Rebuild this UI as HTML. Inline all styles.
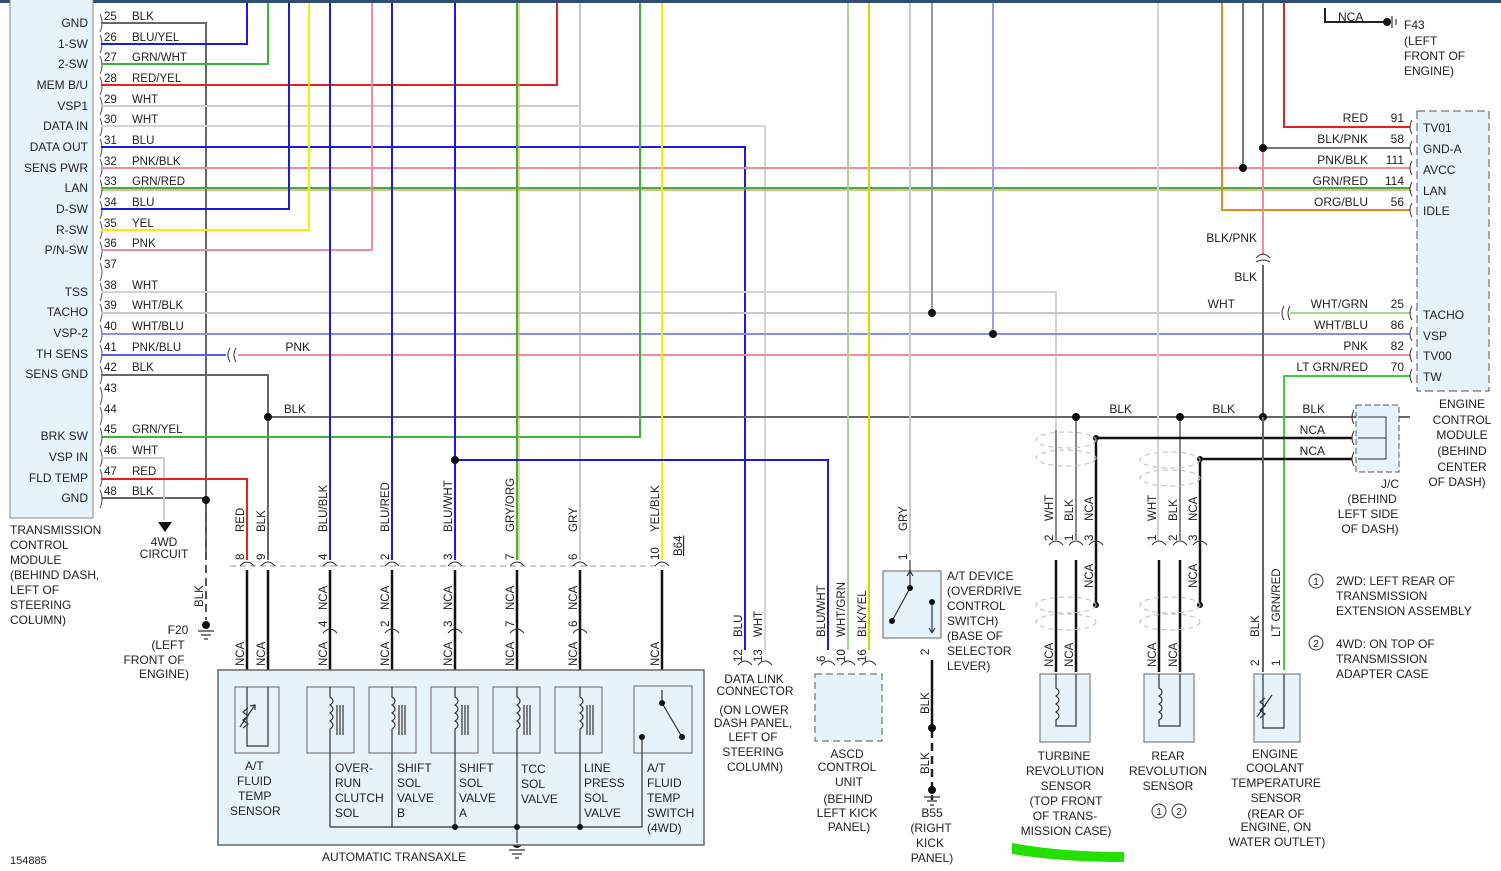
<!DOCTYPE html>
<html><head><meta charset="utf-8"><style>
html,body{margin:0;padding:0;background:#fff;}
svg{display:block;font-family:"Liberation Sans",sans-serif;font-size:12px;fill:#222;}
text{fill:#222;}
</style></head><body>
<svg width="1501" height="871" viewBox="0 0 1501 871" xmlns="http://www.w3.org/2000/svg">
<rect x="0" y="0" width="1501" height="3" fill="#2f4f70"/>
<!-- TCM box -->
<rect x="10" y="-2" width="83" height="520" fill="#e6f3fb" stroke="#888"/>
<g text-anchor="end">
<text x="88" y="27">GND</text><text x="88" y="48">1-SW</text><text x="88" y="68">2-SW</text><text x="88" y="89">MEM B/U</text>
<text x="88" y="110">VSP1</text><text x="88" y="130">DATA IN</text><text x="88" y="151">DATA OUT</text><text x="88" y="172">SENS PWR</text>
<text x="88" y="192">LAN</text><text x="88" y="213">D-SW</text><text x="88" y="234">R-SW</text><text x="88" y="254">P/N-SW</text>
<text x="88" y="296">TSS</text><text x="88" y="316">TACHO</text><text x="88" y="337">VSP-2</text><text x="88" y="358">TH SENS</text>
<text x="88" y="378">SENS GND</text><text x="88" y="440">BRK SW</text><text x="88" y="461">VSP IN</text><text x="88" y="482">FLD TEMP</text><text x="88" y="502">GND</text>
</g>
<g font-size="11.5">
<text x="104" y="20">25</text><text x="132" y="20">BLK</text>
<text x="104" y="41">26</text><text x="132" y="41">BLU/YEL</text>
<text x="104" y="61">27</text><text x="132" y="61">GRN/WHT</text>
<text x="104" y="82">28</text><text x="132" y="82">RED/YEL</text>
<text x="104" y="103">29</text><text x="132" y="103">WHT</text>
<text x="104" y="123">30</text><text x="132" y="123">WHT</text>
<text x="104" y="144">31</text><text x="132" y="144">BLU</text>
<text x="104" y="165">32</text><text x="132" y="165">PNK/BLK</text>
<text x="104" y="185">33</text><text x="132" y="185">GRN/RED</text>
<text x="104" y="206">34</text><text x="132" y="206">BLU</text>
<text x="104" y="227">35</text><text x="132" y="227">YEL</text>
<text x="104" y="247">36</text><text x="132" y="247">PNK</text>
<text x="104" y="268">37</text>
<text x="104" y="289">38</text><text x="132" y="289">WHT</text>
<text x="104" y="309">39</text><text x="132" y="309">WHT/BLK</text>
<text x="104" y="330">40</text><text x="132" y="330">WHT/BLU</text>
<text x="104" y="351">41</text><text x="132" y="351">PNK/BLU</text>
<text x="104" y="371">42</text><text x="132" y="371">BLK</text>
<text x="104" y="392">43</text>
<text x="104" y="413">44</text><text x="284" y="413">BLK</text>
<text x="104" y="433">45</text><text x="132" y="433">GRN/YEL</text>
<text x="104" y="454">46</text><text x="132" y="454">WHT</text>
<text x="104" y="475">47</text><text x="132" y="475">RED</text>
<text x="104" y="495">48</text><text x="132" y="495">BLK</text>
</g>
<!-- pin brackets -->
<g fill="none" stroke="#555" stroke-width="1">
<path d="M100 14 q4 9 0 18 M100 35 q4 9 0 18 M100 56 q4 9 0 18 M100 77 q4 9 0 18 M100 97 q4 9 0 18 M100 118 q4 9 0 18 M100 139 q4 9 0 18 M100 159 q4 9 0 18 M100 180 q4 9 0 18 M100 201 q4 9 0 18 M100 221 q4 9 0 18 M100 242 q4 9 0 18 M100 263 q4 9 0 18 M100 283 q4 9 0 18 M100 304 q4 9 0 18 M100 325 q4 9 0 18 M100 345 q4 9 0 18 M100 366 q4 9 0 18 M100 387 q4 9 0 18 M100 407 q4 9 0 18 M100 428 q4 9 0 18 M100 449 q4 9 0 18 M100 469 q4 9 0 18 M100 490 q4 9 0 18"/>
</g>
<!-- wires -->
<g fill="none" stroke-width="2">
<path d="M101 23 H206 V560" stroke="#666"/>
<path d="M101 498 H206" stroke="#666"/>
<path d="M101 44 H247 V3" stroke="#1a1ae6"/>
<path d="M101 64 H268 V3" stroke="#3cb43c"/>
<path d="M101 85 H557 V3" stroke="#e62020"/>
<path d="M101 106 H580" stroke="#ccc"/>
<path d="M580 3 V560" stroke="#c8c8c8"/>
<path d="M101 126 H765 V650" stroke="#d4d4d4"/>
<path d="M101 147 H745 V650" stroke="#1a1ae6"/>
<path d="M101 168 H1410" stroke="#f08ca0"/>
<path d="M101 188 H1410" stroke="#3cb43c"/>
<path d="M101 190 H1410" stroke="#e66a20" stroke-width="1"/>
<path d="M101 209 H289 V3" stroke="#1a1ae6"/>
<path d="M101 230 H309 V3" stroke="#f0f000"/>
<path d="M101 250 H372 V3" stroke="#f08ca0"/>
<path d="M101 292 H1056 V430" stroke="#d4d4d4"/>
<path d="M101 313 H1280" stroke="#c8c8c8"/>
<path d="M1290 313 H1410" stroke="#a8d890"/>
<path d="M101 334 H1410" stroke="#8c8cf0"/>
<path d="M101 355 H226" stroke="#5a5ae6"/>
<path d="M238 355 H1410" stroke="#f08ca0"/>
<path d="M101 375 H268 V560" stroke="#666"/>
<path d="M268 417 H1410" stroke="#666"/>
<path d="M101 437 H640 V3" stroke="#3cb43c"/>
<path d="M101 458 H164 V520" stroke="#ccc"/>
<path d="M101 479 H247 V560" stroke="#e62020"/>
<path d="M330 3 V560" stroke="#1a1ae6"/>
<path d="M392 3 V560" stroke="#1a1ae6"/>
<path d="M455 3 V560" stroke="#1a1ae6"/>
<path d="M517 3 V560" stroke="#3cb43c"/><path d="M519 3 V560" stroke="#e6a020" stroke-width="1"/>
<path d="M662 3 V560" stroke="#f0f000"/>
<path d="M455 460 H828 V650" stroke="#1a1ae6"/>
<path d="M848 3 V650" stroke="#a8d890"/>
<path d="M869 3 V650" stroke="#d8d800"/>
<path d="M910 3 V555" stroke="#c8c8c8"/>
<path d="M932 3 V313" stroke="#999"/>
<path d="M993 3 V334" stroke="#a0a0f0"/>
<path d="M1158 3 V540" stroke="#d4d4d4"/>
<path d="M1222 3 V210 H1410" stroke="#e68a20"/>
<path d="M1243 3 V168" stroke="#777"/>
<path d="M1263 3 V148 H1410" stroke="#777"/>
<path d="M1263 148 V255" stroke="#f08ca0"/>
<path d="M1263 265 V417" stroke="#666"/>
<path d="M1284 3 V127 H1410" stroke="#e62020"/>
<path d="M1410 376 H1284 V670" stroke="#3cd03c"/>
<path d="M1325 8 V22 H1385" stroke="#222"/>
<path d="M1076 417 V540 M1056 430 V540" stroke="#888"/>
<path d="M1180 417 V540" stroke="#888"/>
</g>
<g fill="none" stroke="#111" stroke-width="2.5">
<path d="M1096 438 H1352 M1096 438 V605"/>
<path d="M1200 459 H1352 M1200 459 V605"/>
<path d="M1056 560 V672 M1076 560 V672 M1159 560 V672 M1180 560 V672"/>
<path d="M247 570 V690 M268 570 V690 M330 570 V690 M392 570 V690 M455 570 V690 M517 570 V690 M580 570 V690 M662 570 V690"/>
<path d="M932 660 V730"/>
</g>
<path d="M932 730 V800" stroke="#222" stroke-width="2.5" stroke-dasharray="8,5"/>
<path d="M206 500 V620" stroke="#555" stroke-width="2" stroke-dasharray="8,5"/>
<path d="M230 566 H665" stroke="#999" stroke-dasharray="6,4"/>
<!-- dots -->
<g fill="#111">
<circle cx="268" cy="417" r="4"/><circle cx="206" cy="500" r="4"/><circle cx="455" cy="460" r="4"/>
<circle cx="932" cy="313" r="4"/><circle cx="993" cy="334" r="4"/><circle cx="1243" cy="168" r="4"/>
<circle cx="1263" cy="148" r="4"/><circle cx="1076" cy="417" r="4"/><circle cx="1180" cy="417" r="4"/><circle cx="1263" cy="417" r="4"/>
<circle cx="1096" cy="438" r="3"/><circle cx="1200" cy="459" r="3"/><circle cx="1096" cy="605" r="3"/><circle cx="1200" cy="605" r="3"/>
<circle cx="932" cy="728" r="4"/><circle cx="932" cy="790" r="4"/><circle cx="206" cy="625" r="4"/><circle cx="1387" cy="22" r="4"/>
<circle cx="517" cy="843" r="5"/>
</g>
<path d="M158 522 h14 l-7 10 z" fill="#111"/>
<!-- grounds -->
<g stroke="#333" stroke-width="1.2">
<path d="M198 631 h16 M201 635 h10 M204 639 h4"/>
<path d="M924 797 h16 M927 801 h10 M930 805 h4"/>
<path d="M509 850 h16 M512 854 h10 M515 858 h4"/>
<path d="M1392 16 v12 M1396 19 v6"/>
</g>
<!-- small connector arcs on pins -->
<g fill="none" stroke="#333" stroke-width="1">
<path d="M240 566 q7-8 14 0 M261 566 q7-8 14 0 M323 566 q7-8 14 0 M385 566 q7-8 14 0 M448 566 q7-8 14 0 M510 566 q7-8 14 0 M573 566 q7-8 14 0 M655 566 q7-8 14 0"/>
<path d="M323 633 q7-8 14 0 M385 633 q7-8 14 0 M448 633 q7-8 14 0 M510 633 q7-8 14 0 M573 633 q7-8 14 0"/>
<path d="M1049 545 q7-8 14 0 M1069 545 q7-8 14 0 M1089 545 q7-8 14 0 M1152 545 q7-8 14 0 M1173 545 q7-8 14 0 M1193 545 q7-8 14 0"/>
<path d="M1256 258 q7-8 14 0 M1256 262 q7 -4 14 0"/>
<path d="M230 348 q-4 7 0 14 M236 348 q-4 7 0 14 M1284 306 q-4 7 0 14 M1290 306 q-4 7 0 14"/>
<path d="M1412 120 q-4 7 0 14 M1412 141 q-4 7 0 14 M1412 161 q-4 7 0 14 M1412 182 q-4 7 0 14 M1412 203 q-4 7 0 14 M1412 306 q-4 7 0 14 M1412 327 q-4 7 0 14 M1412 348 q-4 7 0 14 M1412 369 q-4 7 0 14"/>
<path d="M1354 410 q-4 7 0 14 M1354 431 q-4 7 0 14 M1354 452 q-4 7 0 14"/>
<path d="M821 665 q7-8 14 0 M841 665 q7-8 14 0 M862 665 q7-8 14 0 M738 665 q7-8 14 0 M758 665 q7-8 14 0"/>
</g>
<g fill="none" stroke="#bbb" stroke-dasharray="5,4">
<ellipse cx="1066" cy="440" rx="30" ry="8"/><ellipse cx="1066" cy="458" rx="30" ry="8"/>
<ellipse cx="1066" cy="605" rx="30" ry="8"/><ellipse cx="1066" cy="622" rx="30" ry="8"/>
<ellipse cx="1170" cy="460" rx="30" ry="8"/><ellipse cx="1170" cy="478" rx="30" ry="8"/>
<ellipse cx="1170" cy="605" rx="30" ry="8"/><ellipse cx="1170" cy="622" rx="30" ry="8"/>
</g>
<!-- ECM -->
<rect x="1417" y="111" width="72" height="280" fill="#e6f3fb" stroke="#555" stroke-dasharray="8,4"/>
<g>
<text x="1423" y="132">TV01</text><text x="1423" y="153">GND-A</text><text x="1423" y="174">AVCC</text><text x="1423" y="195">LAN</text><text x="1423" y="215">IDLE</text>
<text x="1423" y="319">TACHO</text><text x="1423" y="340">VSP</text><text x="1423" y="360">TV00</text><text x="1423" y="381">TW</text>
</g>
<g text-anchor="end">
<text x="1368" y="122">RED</text><text x="1404" y="122">91</text>
<text x="1368" y="143">BLK/PNK</text><text x="1404" y="143">58</text>
<text x="1368" y="164">PNK/BLK</text><text x="1404" y="164">111</text>
<text x="1368" y="185">GRN/RED</text><text x="1404" y="185">114</text>
<text x="1368" y="206">ORG/BLU</text><text x="1404" y="206">56</text>
<text x="1257" y="242">BLK/PNK</text><text x="1257" y="281">BLK</text><text x="1235" y="308">WHT</text>
<text x="1368" y="308">WHT/GRN</text><text x="1404" y="308">25</text>
<text x="1368" y="329">WHT/BLU</text><text x="1404" y="329">86</text>
<text x="1368" y="350">PNK</text><text x="1404" y="350">82</text>
<text x="1368" y="371">LT GRN/RED</text><text x="1404" y="371">70</text>
<text x="1325" y="413">BLK</text><text x="1325" y="434">NCA</text><text x="1325" y="455">NCA</text>
<text x="1132" y="413">BLK</text><text x="1235" y="413">BLK</text><text x="310" y="351">PNK</text>
</g>
<text x="1338" y="21">NCA</text>
<g text-anchor="middle"><text x="1462" y="408">ENGINE</text><text x="1462" y="424">CONTROL</text><text x="1462" y="439">MODULE</text><text x="1462" y="455">(BEHIND</text><text x="1462" y="471">CENTER</text><text x="1457" y="486">OF DASH)</text></g>
<text x="1404" y="29">F43</text><text x="1404" y="45">(LEFT</text><text x="1404" y="60">FRONT OF</text><text x="1404" y="75">ENGINE)</text>
<rect x="1356" y="405" width="43" height="67" fill="#e6f3fb" stroke="#555" stroke-dasharray="6,3"/>
<path d="M1358 417 H1386 V459 H1358 M1358 438 H1386" fill="none" stroke="#333"/>
<g text-anchor="middle"><text x="1390" y="488">J/C</text><text x="1372" y="503">(BEHIND</text><text x="1368" y="518">LEFT SIDE</text><text x="1370" y="533">OF DASH)</text></g>
<circle cx="1316" cy="581" r="7" fill="none" stroke="#333"/><text x="1316" y="585" font-size="10" text-anchor="middle">1</text>
<circle cx="1316" cy="643" r="7" fill="none" stroke="#333"/><text x="1316" y="647" font-size="10" text-anchor="middle">2</text>
<text x="1336" y="585">2WD: LEFT REAR OF</text><text x="1336" y="600">TRANSMISSION</text><text x="1336" y="615">EXTENSION ASSEMBLY</text>
<text x="1336" y="648">4WD: ON TOP OF</text><text x="1336" y="663">TRANSMISSION</text><text x="1336" y="678">ADAPTER CASE</text>
<!-- left notes -->
<text x="10" y="534">TRANSMISSION</text><text x="10" y="549">CONTROL</text><text x="10" y="564">MODULE</text><text x="10" y="579">(BEHIND DASH,</text><text x="10" y="594">LEFT OF</text><text x="10" y="609">STEERING</text><text x="10" y="624">COLUMN)</text>
<g text-anchor="middle"><text x="164" y="546">4WD</text><text x="164" y="558">CIRCUIT</text>
<text x="178" y="634">F20</text><text x="168" y="649">(LEFT</text><text x="154" y="664">FRONT OF</text><text x="164" y="678">ENGINE)</text></g>
<text x="10" y="864" font-size="11">154885</text>
<!-- vertical labels -->
<g font-size="11.5">
<text transform="translate(203,607) rotate(-90)">BLK</text>
<text transform="translate(244,532) rotate(-90)">RED</text><text transform="translate(265,532) rotate(-90)">BLK</text>
<text transform="translate(327,532) rotate(-90)">BLU/BLK</text><text transform="translate(389,532) rotate(-90)">BLU/RED</text>
<text transform="translate(452,532) rotate(-90)">BLU/WHT</text><text transform="translate(514,532) rotate(-90)">GRY/ORG</text>
<text transform="translate(577,532) rotate(-90)">GRY</text><text transform="translate(659,532) rotate(-90)">YEL/BLK</text>
<text transform="translate(682,556) rotate(-90)" text-decoration="underline">B64</text>
<text transform="translate(244,560) rotate(-90)">8</text><text transform="translate(265,560) rotate(-90)">9</text><text transform="translate(327,560) rotate(-90)">4</text><text transform="translate(389,560) rotate(-90)">2</text><text transform="translate(452,560) rotate(-90)">3</text><text transform="translate(514,560) rotate(-90)">7</text><text transform="translate(577,560) rotate(-90)">6</text><text transform="translate(659,560) rotate(-90)">10</text>
<text transform="translate(327,610) rotate(-90)">NCA</text><text transform="translate(389,610) rotate(-90)">NCA</text><text transform="translate(452,610) rotate(-90)">NCA</text><text transform="translate(514,610) rotate(-90)">NCA</text><text transform="translate(577,610) rotate(-90)">NCA</text>
<text transform="translate(327,627) rotate(-90)">4</text><text transform="translate(389,627) rotate(-90)">2</text><text transform="translate(452,627) rotate(-90)">3</text><text transform="translate(514,627) rotate(-90)">7</text><text transform="translate(577,627) rotate(-90)">6</text>
<text transform="translate(244,666) rotate(-90)">NCA</text><text transform="translate(265,666) rotate(-90)">NCA</text><text transform="translate(327,666) rotate(-90)">NCA</text><text transform="translate(389,666) rotate(-90)">NCA</text><text transform="translate(452,666) rotate(-90)">NCA</text><text transform="translate(514,666) rotate(-90)">NCA</text><text transform="translate(577,666) rotate(-90)">NCA</text><text transform="translate(659,666) rotate(-90)">NCA</text>
<text transform="translate(742,637) rotate(-90)">BLU</text><text transform="translate(762,637) rotate(-90)">WHT</text>
<text transform="translate(742,662) rotate(-90)">12</text><text transform="translate(762,662) rotate(-90)">13</text>
<text transform="translate(825,637) rotate(-90)">BLU/WHT</text><text transform="translate(845,637) rotate(-90)">WHT/GRN</text><text transform="translate(866,637) rotate(-90)">BLK/YEL</text>
<text transform="translate(825,662) rotate(-90)">6</text><text transform="translate(845,662) rotate(-90)">10</text><text transform="translate(866,662) rotate(-90)">16</text>
<text transform="translate(907,531) rotate(-90)">GRY</text><text transform="translate(907,560) rotate(-90)">1</text>
<text transform="translate(929,655) rotate(-90)">2</text><text transform="translate(929,714) rotate(-90)">BLK</text><text transform="translate(929,774) rotate(-90)">BLK</text>
<text transform="translate(1053,521) rotate(-90)">WHT</text><text transform="translate(1073,521) rotate(-90)">BLK</text><text transform="translate(1093,521) rotate(-90)">NCA</text>
<text transform="translate(1053,541) rotate(-90)">2</text><text transform="translate(1073,541) rotate(-90)">1</text><text transform="translate(1093,541) rotate(-90)">3</text>
<text transform="translate(1093,588) rotate(-90)">NCA</text>
<text transform="translate(1156,521) rotate(-90)">WHT</text><text transform="translate(1177,521) rotate(-90)">BLK</text><text transform="translate(1197,521) rotate(-90)">NCA</text>
<text transform="translate(1156,541) rotate(-90)">1</text><text transform="translate(1177,541) rotate(-90)">2</text><text transform="translate(1197,541) rotate(-90)">3</text>
<text transform="translate(1197,588) rotate(-90)">NCA</text>
<text transform="translate(1053,667) rotate(-90)">NCA</text><text transform="translate(1073,667) rotate(-90)">NCA</text><text transform="translate(1156,667) rotate(-90)">NCA</text><text transform="translate(1177,667) rotate(-90)">NCA</text>
<text transform="translate(1259,637) rotate(-90)">BLK</text><text transform="translate(1280,637) rotate(-90)">LT GRN/RED</text>
<text transform="translate(1259,666) rotate(-90)">2</text><text transform="translate(1280,666) rotate(-90)">1</text>
</g>
<path d="M1263 417 V672" stroke="#666" stroke-width="2"/>
<!-- automatic transaxle -->
<rect x="218" y="670" width="486" height="175" fill="#e6f3fb" stroke="#666" stroke-width="1.5"/>
<g fill="#e6f3fb" stroke="#666">
<rect x="235" y="687" width="44" height="66"/><rect x="307" y="687" width="47" height="66"/><rect x="369" y="687" width="47" height="66"/>
<rect x="431" y="687" width="47" height="66"/><rect x="493" y="687" width="47" height="66"/><rect x="555" y="687" width="47" height="66"/>
<rect x="634" y="686" width="58" height="67"/>
</g>
<g fill="none" stroke="#333" stroke-width="1.2">
<path d="M247 687 V746 H268 V687 M243 728 l5-4 -5-4 5-4 -5-4 5-4 M240 727 l15-22 M250 706 l5-1 0 5"/>
<path d="M330 687 v10 q6 4 0 8 q6 4 0 8 q6 4 0 8 q6 4 0 8 v8 V827 M337 705 v30 M340 705 v30 M343 705 v30"/>
<path d="M392 687 v10 q6 4 0 8 q6 4 0 8 q6 4 0 8 q6 4 0 8 v8 V827 M399 705 v30 M402 705 v30 M405 705 v30"/>
<path d="M455 687 v10 q6 4 0 8 q6 4 0 8 q6 4 0 8 q6 4 0 8 v8 V827 M462 705 v30 M465 705 v30 M468 705 v30"/>
<path d="M517 687 v10 q6 4 0 8 q6 4 0 8 q6 4 0 8 q6 4 0 8 v8 V843 M524 705 v30 M527 705 v30 M530 705 v30"/>
<path d="M580 687 v10 q6 4 0 8 q6 4 0 8 q6 4 0 8 q6 4 0 8 v8 V827 M587 705 v30 M590 705 v30 M593 705 v30"/>
<path d="M330 827 H642 V737 M662 703 L682 737 M662 690 V703"/>
</g>
<g fill="#111"><circle cx="662" cy="703" r="3"/><circle cx="682" cy="737" r="3"/><circle cx="642" cy="737" r="3"/><circle cx="455" cy="827" r="3"/><circle cx="517" cy="827" r="3"/><circle cx="580" cy="827" r="3"/></g>
<g font-size="12">
<text x="245" y="770">A/T</text><text x="237" y="785">FLUID</text><text x="238" y="800">TEMP</text><text x="230" y="815">SENSOR</text>
<text x="335" y="772">OVER-</text><text x="335" y="787">RUN</text><text x="335" y="802">CLUTCH</text><text x="335" y="817">SOL</text>
<text x="397" y="772">SHIFT</text><text x="397" y="787">SOL</text><text x="397" y="802">VALVE</text><text x="397" y="817">B</text>
<text x="459" y="772">SHIFT</text><text x="459" y="787">SOL</text><text x="459" y="802">VALVE</text><text x="459" y="817">A</text>
<text x="521" y="773">TCC</text><text x="521" y="788">SOL</text><text x="521" y="803">VALVE</text>
<text x="584" y="772">LINE</text><text x="584" y="787">PRESS</text><text x="584" y="802">SOL</text><text x="584" y="817">VALVE</text>
<text x="647" y="772">A/T</text><text x="647" y="787">FLUID</text><text x="647" y="802">TEMP</text><text x="647" y="817">SWITCH</text><text x="647" y="832">(4WD)</text>
<text x="322" y="861">AUTOMATIC TRANSAXLE</text>
</g>
<!-- data link / ascd / at device -->
<g text-anchor="middle">
<text x="754" y="683">DATA LINK</text><text x="755" y="695">CONNECTOR</text><text x="754" y="714">(ON LOWER</text><text x="753" y="727">DASH PANEL,</text><text x="753" y="741">LEFT OF</text><text x="753" y="756">STEERING</text><text x="755" y="771">COLUMN)</text>
<text x="847" y="758">ASCD</text><text x="847" y="771">CONTROL</text><text x="849" y="786">UNIT</text><text x="848" y="803">(BEHIND</text><text x="847" y="817">LEFT KICK</text><text x="849" y="831">PANEL)</text>
<text x="932" y="817">B55</text><text x="931" y="832">(RIGHT</text><text x="930" y="847">KICK</text><text x="932" y="862">PANEL)</text>
<text x="1064" y="760">TURBINE</text><text x="1065" y="775">REVOLUTION</text><text x="1066" y="790">SENSOR</text><text x="1066" y="805">(TOP FRONT</text><text x="1065" y="820">OF TRANS-</text><text x="1066" y="835">MISSION CASE)</text>
<text x="1168" y="760">REAR</text><text x="1168" y="775">REVOLUTION</text><text x="1168" y="790">SENSOR</text>
<text x="1275" y="758">ENGINE</text><text x="1275" y="772">COOLANT</text><text x="1276" y="787">TEMPERATURE</text><text x="1276" y="802">SENSOR</text><text x="1276" y="818">(REAR OF</text><text x="1276" y="831">ENGINE, ON</text><text x="1277" y="846">WATER OUTLET)</text>
</g>
<circle cx="1159" cy="811" r="7" fill="none" stroke="#333"/><text x="1159" y="815" font-size="10" text-anchor="middle">1</text>
<circle cx="1179" cy="811" r="7" fill="none" stroke="#333"/><text x="1179" y="815" font-size="10" text-anchor="middle">2</text>
<path d="M1012 843 Q1060 852 1124 852 L1124 862 Q1060 862 1012 854 Z" fill="#22e000"/>
<rect x="815" y="674" width="67" height="67" fill="#e6f3fb" stroke="#555" stroke-dasharray="7,4"/>
<rect x="883" y="571" width="58" height="67" fill="#e6f3fb" stroke="#666"/>
<g fill="none" stroke="#333" stroke-width="1.2"><path d="M910 560 V588 L892 621 M910 571 l-3 5 M910 571 l3 5 M932 602 V633 M932 633 l-3-5 M932 633 l3-5"/></g>
<g fill="#111"><circle cx="910" cy="588" r="3"/><circle cx="892" cy="621" r="3"/><circle cx="932" cy="602" r="3"/></g>
<text x="947" y="580">A/T DEVICE</text><text x="947" y="595">(OVERDRIVE</text><text x="947" y="610">CONTROL</text><text x="947" y="625">SWITCH)</text><text x="947" y="640">(BASE OF</text><text x="947" y="655">SELECTOR</text><text x="947" y="670">LEVER)</text>
<!-- sensors right -->
<rect x="1040" y="674" width="50" height="68" fill="#e6f3fb" stroke="#666"/>
<rect x="1144" y="674" width="50" height="68" fill="#e6f3fb" stroke="#666"/>
<rect x="1254" y="674" width="46" height="68" fill="#e6f3fb" stroke="#666"/>
<g fill="none" stroke="#333" stroke-width="1.2">
<path d="M1056 674 v14 q6 4 0 8 q6 4 0 8 q6 4 0 8 q6 4 0 8 v6 H1076 V674"/>
<path d="M1159 674 v14 q6 4 0 8 q6 4 0 8 q6 4 0 8 q6 4 0 8 v6 H1180 V674"/>
<path d="M1263 674 V728 H1284 V674 M1260 718 l5-4 -5-4 5-4 -5-4 5-4 M1257 717 l15-22"/>
</g>
</svg>
</body></html>
